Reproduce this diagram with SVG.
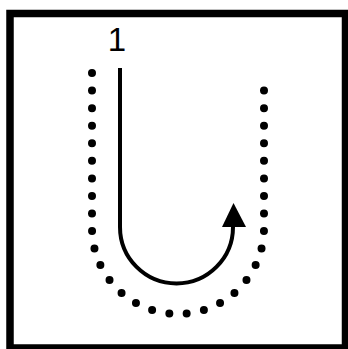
<svg xmlns="http://www.w3.org/2000/svg" width="348" height="349" viewBox="0 0 348 349">
  <style>
    .frame { fill: #fff; stroke: #000; stroke-width: 7.5; }
    .dots { fill: none; stroke: #000; stroke-width: 8; stroke-linecap: round; stroke-dasharray: 0 1; }
    .path { fill: none; stroke: #000; stroke-width: 4; }
    .label { font-family: "Liberation Sans", Arial, sans-serif; font-size: 33px; fill: #000; }
  </style>
  <rect class="frame" x="10" y="13.5" width="335.5" height="334.5"/>
  <g id="boundary">
    <path class="dots" pathLength="33" d="M92,73 V228 A86,86 0 0 0 264,228 V73"/>
  </g>
  <g id="label-1">
    <text class="label" x="117" y="51" text-anchor="middle">1</text>
  </g>
  <g id="connectors">
    <path class="path" d="M120,68 V227 A56.5,56.5 0 0 0 233,227 V222"/>
    <polygon points="233.5,203 222,227 246,227" fill="#000"/>
  </g>
</svg>
